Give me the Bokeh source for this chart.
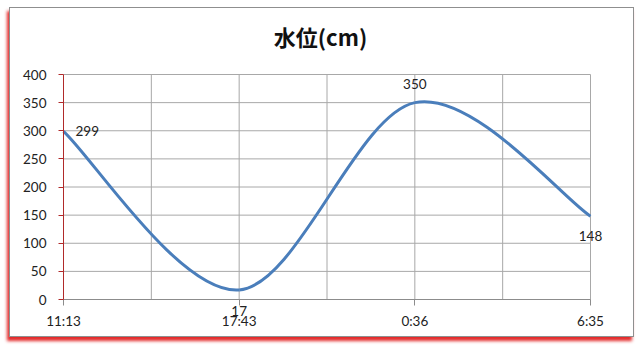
from bokeh.plotting import figure
from bokeh.models import FixedTicker, Range1d, Label
from bokeh.embed import file_html
from bokeh.resources import INLINE

# ---- data ----
times = ["11:13", "17:43", "0:36", "6:35"]
levels = [299, 17, 350, 148]
y_ticks = [0, 50, 100, 150, 200, 250, 300, 350, 400]

xs = list(range(len(times)))
y_lo, y_hi = y_ticks[0], y_ticks[-1]
x_lo, x_hi = xs[0], xs[-1]

# ---- geometry (pixels inside the 625x330 figure) ----
W, H = 625, 330
BORDER_L, BORDER_R, BORDER_B, BORDER_T = 5, 10, 4, 52
TITLE_STANDOFF = 18
AXIS_TOP, AXIS_BOTTOM = 66, 291     # where y_hi / y_lo land
AXIS_LEFT, AXIS_RIGHT = 53, 580     # where x_lo / x_hi land

frame_top, frame_bottom = BORDER_T, H - BORDER_B
frame_left, frame_right = BORDER_L, W - BORDER_R
ppu_y = (AXIS_BOTTOM - AXIS_TOP) / (y_hi - y_lo)
y_start = y_lo - (frame_bottom - AXIS_BOTTOM) / ppu_y
y_end = y_hi + (AXIS_TOP - frame_top) / ppu_y
ppu_x = (AXIS_RIGHT - AXIS_LEFT) / (x_hi - x_lo)
x_start = x_lo - (AXIS_LEFT - frame_left) / ppu_x
x_end = x_hi + (frame_right - AXIS_RIGHT) / ppu_x

FONT = "Lato"
FS = "13.5px"
GRID = "#a8a8a8"
p = figure(width=W, height=H,
           x_range=Range1d(x_start, x_end), y_range=Range1d(y_start, y_end),
           output_backend="svg", toolbar_location=None,
           min_border_left=BORDER_L, min_border_right=BORDER_R,
           min_border_top=BORDER_T, min_border_bottom=BORDER_B,
           title="水位(cm)")
p.margin = (7, 6, 11, 9)
p.styles = {"border": "1px solid #8f8f8f",
            "box-shadow": "-2px 4px 3px rgba(225,20,20,0.9)"}
p.outline_line_color = None
p.background_fill_color = "white"
p.border_fill_color = "white"
p.grid.visible = False

p.title.align = "center"
p.title.text_font = "Noto Sans CJK JP"
p.title.text_font_size = "22px"
p.title.text_font_style = "bold"
p.title.text_color = "#111111"
p.title.standoff = TITLE_STANDOFF

# grid lines, limited to the axis extent
vx = [x + 0.5 for x in xs[:-1]] + xs[1:]
p.segment(x0=vx, y0=[y_lo] * len(vx), x1=vx, y1=[y_hi] * len(vx),
          line_color=GRID, line_width=1)
p.segment(x0=[x_lo] * len(y_ticks), y0=y_ticks, x1=[x_hi] * len(y_ticks), y1=y_ticks,
          line_color=GRID, line_width=1)

# x axis at y = 0
p.xaxis.fixed_location = y_lo
p.xaxis.bounds = (x_lo, x_hi)
p.xaxis.ticker = FixedTicker(ticks=xs)
p.xaxis.major_label_overrides = {x: t for x, t in zip(xs, times)}
p.xaxis.axis_line_color = "#8c8c8c"
p.xaxis.major_tick_line_color = "#8c8c8c"
p.xaxis.major_tick_out = 6
p.xaxis.major_tick_in = 0
p.xaxis.minor_tick_line_color = None
p.xaxis.major_label_standoff = 7
p.xaxis.major_label_text_font = FONT
p.xaxis.major_label_text_font_size = FS
p.xaxis.major_label_text_color = "#222222"

# y axis at x = first category
p.yaxis.fixed_location = x_lo
p.yaxis.bounds = (y_lo, y_hi)
p.yaxis.ticker = FixedTicker(ticks=y_ticks)
p.yaxis.axis_line_color = "#b02a2a"
p.yaxis.major_tick_line_color = "#b02a2a"
p.yaxis.major_tick_out = 5
p.yaxis.major_tick_in = 0
p.yaxis.minor_tick_line_color = None
p.yaxis.major_label_standoff = 12
p.yaxis.major_label_text_font = FONT
p.yaxis.major_label_text_font_size = FS
p.yaxis.major_label_text_color = "#222222"

# smooth line (Excel-style cardinal spline -> Bezier control points)
n = len(xs)
x0, y0, x1, y1, cx0, cy0, cx1, cy1 = ([] for _ in range(8))
for i in range(n - 1):
    im1 = max(i - 1, 0)
    ip2 = min(i + 2, n - 1)
    x0.append(xs[i]); y0.append(levels[i])
    x1.append(xs[i + 1]); y1.append(levels[i + 1])
    cx0.append(xs[i] + (xs[i + 1] - xs[im1]) / 6)
    cy0.append(levels[i] + (levels[i + 1] - levels[im1]) / 6)
    cx1.append(xs[i + 1] - (xs[ip2] - xs[i]) / 6)
    cy1.append(levels[i + 1] - (levels[ip2] - levels[i]) / 6)
p.bezier(x0=x0, y0=y0, x1=x1, y1=y1, cx0=cx0, cy0=cy0, cx1=cx1, cy1=cy1,
         line_color="#4a7ebb", line_width=3)

# data labels
placement = [("left", 12, 0), ("center", 0, -21), ("center", 0, 19), ("center", 0, -20)]
for i, (align, dx, dy) in enumerate(placement):
    p.add_layout(Label(x=xs[i], y=levels[i], text=str(levels[i]),
                       text_align=align, text_baseline="middle",
                       x_offset=dx, y_offset=dy,
                       text_font=FONT, text_font_size=FS, text_color="#222222"))

open("out.html", "w").write(file_html(p, INLINE))
